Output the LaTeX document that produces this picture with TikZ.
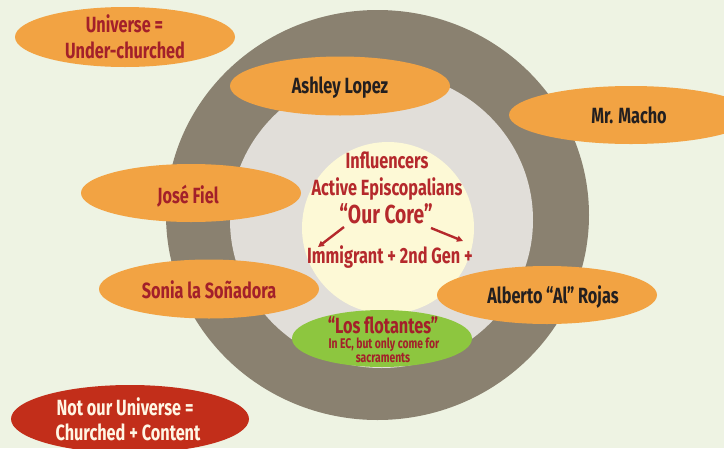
\documentclass[tikz,border=0pt]{standalone}
\usepackage{fontspec}
\setmainfont{Fira Sans}[FakeStretch=0.74]
\usetikzlibrary{shapes.geometric,arrows.meta}
\definecolor{bgC}{HTML}{EEF3E3}
\definecolor{ringC}{HTML}{8A8170}
\definecolor{innerC}{HTML}{E1DED9}
\definecolor{coreC}{HTML}{FDF9D6}
\definecolor{orangeC}{HTML}{F2A343}
\definecolor{greenC}{HTML}{8DC63F}
\definecolor{redC}{HTML}{C22E1A}
\definecolor{redT}{HTML}{A3202A}
\definecolor{coreT}{HTML}{B5292C}
\definecolor{darkT}{HTML}{231F20}
\definecolor{creamT}{HTML}{FFF6E4}
\tikzset{
  oval/.style={ellipse, draw=none, inner sep=0pt, outer sep=0pt},
  txt/.style={font=\bfseries\fontsize{22}{27}\selectfont, inner sep=0pt, anchor=base},
  smalltxt/.style={font=\bfseries\fontsize{14}{15}\selectfont, inner sep=0pt, anchor=base},
  bigtxt/.style={font=\bfseries\fontsize{26}{30}\selectfont, inner sep=0pt, anchor=base},
  coreArrow/.style={draw=coreT, line width=2.4pt, -{Triangle[length=6pt,width=6pt]}}
}
\begin{document}
\begin{tikzpicture}[x=1pt,y=-1pt]
\useasboundingbox (0,0) rectangle (724,448);
\clip (0,0) rectangle (724,448);
\fill[bgC] (0,0) rectangle (724,448);

% rings
\node[oval, fill=ringC, minimum width=423, minimum height=410] (outer) at (377.5,215) {};
\node[oval, fill=innerC, minimum width=303, minimum height=296] (inner) at (381.5,220) {};
\node[circle, fill=coreC, draw=none, inner sep=0pt, minimum size=172] (core) at (388,228) {};

% core text
\node[txt, text=coreT] (infl) at (387,168) {Influencers};
\node[txt, text=coreT] (active) at (387,195.5) {Active Episcopalians};
\node[bigtxt, text=coreT] (ourcore) at (386,223) {“Our Core”};
\node[txt, text=coreT] (immig) at (390,263) {Immigrant + 2nd Gen +};
\coordinate (la) at (344,227);
\coordinate (lb) at (318,247);
\coordinate (ra) at (431,228);
\coordinate (rb) at (463,241);
\draw[coreArrow] (la) -- (lb);
\draw[coreArrow] (ra) -- (rb);

% universe
\node[oval, fill=orangeC, minimum width=220, minimum height=60] (univ) at (125,37) {};
\node[txt, text=redT] (univA) at (124.5,32) {Universe =};
\node[txt, text=redT] (univB) at (125,58.5) {Under-churched};

% Ashley
\node[oval, fill=orangeC, minimum width=220, minimum height=59] (ashley) at (340,86) {};
\node[txt, text=darkT] (ashleyT) at (340,93.5) {Ashley Lopez};

% Mr. Macho
\node[oval, fill=orangeC, minimum width=244, minimum height=58] (macho) at (631,115) {};
\node[txt, text=darkT] (machoT) at (629,123) {Mr. Macho};

% José
\node[oval, fill=orangeC, minimum width=220, minimum height=58] (jose) at (191,193) {};
\node[txt, text=redT] (joseT) at (188,203) {José Fiel};

% Sonia
\node[oval, fill=orangeC, minimum width=220, minimum height=59] (sonia) at (209,289) {};
\node[txt, text=redT] (soniaT) at (209,298) {Sonia la Soñadora};

% Alberto
\node[oval, fill=orangeC, minimum width=220, minimum height=58] (alberto) at (547,295) {};
\node[txt, text=darkT] (albertoT) at (553,303) {Alberto\,“Al”\,Rojas};

% Los flotantes
\node[oval, fill=greenC, minimum width=180, minimum height=57] (flot) at (382,338.5) {};
\node[txt, text=redT] (flotA) at (383,333) {“Los flotantes”};
\node[smalltxt, text=redT] (flotB) at (384,348) {In EC, but only come for};
\node[smalltxt, text=redT] (flotC) at (383,362) {sacraments};

% Not our universe
\node[oval, fill=redC, minimum width=238, minimum height=68] (notuniv) at (130,419) {};
\node[txt, text=creamT] (notA) at (125,415) {Not our Universe =};
\node[txt, text=creamT] (notB) at (128,440.5) {Churched + Content};
\end{tikzpicture}
\end{document}
